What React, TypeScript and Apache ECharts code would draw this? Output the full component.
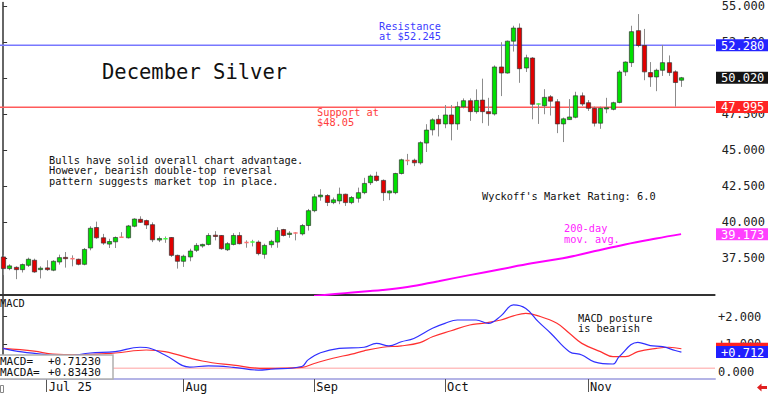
import React, { useEffect, useRef } from 'react';
import * as echarts from 'echarts';

// ---------- data ----------
const monthTicks = [7, 29, 50, 71, 94];
const monthLabels = ['Jul 25', 'Aug', 'Sep', 'Oct', 'Nov'];

// [open, close, low, high]
const candles: number[][] = [
  [37.59, 36.78, 36.33, 37.7], [36.78, 36.97, 36.67, 37.08], [36.87, 36.71, 36.05, 36.94], [36.71, 37.06, 36.51, 37.13],
  [37.01, 37.43, 36.9, 37.54], [37.36, 36.55, 36.49, 37.47], [36.71, 36.81, 36.1, 36.94], [36.83, 36.71, 36.62, 37.36],
  [36.67, 37.29, 36.6, 37.36], [37.24, 37.54, 37.06, 37.75], [37.56, 37.47, 36.85, 37.93], [37.49, 37.47, 36.94, 37.7],
  [37.43, 37.08, 37.01, 37.47], [37.08, 38.11, 37.01, 38.21], [38.21, 39.58, 38.05, 39.72], [39.63, 38.92, 38.85, 40.04],
  [38.92, 38.55, 38.43, 39.19], [38.48, 38.66, 38.21, 38.85], [38.64, 38.94, 38.21, 39.01], [38.99, 38.96, 38.92, 39.31],
  [38.92, 39.74, 38.87, 39.81], [39.72, 40.22, 39.65, 40.27], [40.2, 39.99, 39.95, 40.41], [40.11, 39.81, 39.53, 40.18],
  [39.83, 38.78, 38.62, 39.99], [38.76, 38.87, 38.62, 39.01], [38.83, 38.85, 38.57, 39.01], [38.94, 37.7, 37.59, 38.96],
  [37.7, 37.29, 36.78, 37.75], [37.29, 37.64, 36.9, 37.75], [37.59, 38.0, 37.29, 38.16], [38.05, 38.39, 37.93, 38.55],
  [38.35, 38.46, 38.23, 38.51], [38.46, 39.08, 38.39, 39.24], [39.1, 39.01, 38.74, 39.38], [39.08, 38.16, 38.09, 39.1],
  [38.09, 38.51, 38.0, 38.62], [38.46, 39.08, 38.39, 39.24], [39.08, 38.51, 38.46, 39.31], [38.63, 38.6, 38.23, 38.74],
  [38.58, 38.62, 38.32, 38.78], [38.62, 37.82, 37.7, 38.74], [37.77, 38.39, 37.47, 38.51], [38.44, 38.67, 38.23, 38.78],
  [38.62, 39.42, 38.23, 39.65], [39.49, 39.08, 39.01, 39.54], [39.15, 39.24, 38.92, 39.38], [39.28, 39.26, 38.74, 39.31],
  [39.19, 39.77, 39.08, 39.88], [39.77, 40.8, 39.42, 40.92], [40.8, 41.76, 40.69, 41.95], [41.76, 41.88, 41.49, 42.29],
  [41.85, 41.37, 41.12, 41.95], [41.36, 41.55, 41.25, 41.71], [41.48, 41.94, 41.25, 42.4], [41.94, 41.36, 41.13, 41.98],
  [41.36, 41.71, 41.25, 41.82], [41.66, 42.05, 41.36, 42.4], [42.05, 42.69, 41.94, 43.08], [42.74, 43.2, 42.58, 43.31],
  [43.2, 42.9, 42.81, 43.5], [42.9, 42.05, 41.48, 42.97], [42.03, 42.17, 41.53, 42.21], [42.05, 43.38, 41.94, 43.43],
  [43.38, 44.33, 43.31, 44.41], [44.3, 44.28, 43.96, 44.74], [44.3, 44.12, 43.89, 44.41], [44.12, 45.52, 44.0, 45.61],
  [45.49, 46.39, 44.87, 46.8], [46.41, 47.1, 46.02, 47.21], [47.14, 46.82, 45.95, 47.44], [46.82, 47.44, 46.52, 48.13],
  [47.44, 46.82, 45.68, 48.13], [46.82, 48.01, 46.41, 48.36], [48.01, 48.43, 47.9, 48.59], [48.43, 47.67, 47.03, 48.59],
  [47.67, 48.45, 47.53, 49.22], [48.47, 47.67, 46.87, 49.96], [47.67, 47.53, 46.69, 48.63], [47.51, 50.77, 47.4, 50.88],
  [50.77, 50.35, 48.75, 52.49], [50.35, 52.56, 50.31, 52.6], [52.56, 53.47, 51.84, 53.63], [53.47, 50.65, 49.67, 53.79],
  [50.7, 51.41, 50.42, 51.62], [51.39, 48.18, 47.14, 51.45], [48.16, 48.2, 46.82, 48.25], [48.08, 48.66, 47.49, 49.23],
  [48.7, 48.4, 47.4, 48.82], [48.36, 46.82, 46.18, 48.54], [46.82, 47.17, 45.56, 47.26], [47.12, 47.3, 47.1, 48.54],
  [47.28, 48.77, 47.21, 49.05], [48.77, 48.2, 48.06, 49.0], [48.29, 47.9, 47.72, 48.47], [47.9, 46.87, 46.64, 48.02],
  [46.87, 47.9, 46.48, 48.02], [47.86, 47.94, 47.56, 48.63], [47.83, 48.29, 47.76, 48.36], [48.31, 50.42, 48.25, 50.54],
  [50.43, 51.11, 50.15, 51.16], [51.07, 53.22, 50.77, 53.63], [53.29, 52.26, 52.14, 54.44], [52.26, 50.43, 49.85, 53.41],
  [50.38, 50.08, 49.39, 51.11], [50.08, 50.54, 49.09, 50.65], [50.54, 51.07, 50.15, 52.3], [51.07, 50.38, 50.15, 51.57],
  [50.43, 49.69, 48.02, 50.54], [49.85, 50.02, 49.39, 50.08],
];

// 200-day moving average [index, value]
const ma200: number[][] = [
  [50, 34.88], [55, 35.08], [61, 35.29], [65, 35.5], [70, 35.91], [75, 36.33], [80, 36.74],
  [85, 37.15], [90, 37.5], [95, 37.98], [100, 38.46], [105, 38.87], [109, 39.173],
];

// MACD line [index, value]
const macdLine: number[][] = [
  [0, 0.85], [3, 0.72], [8, 0.6], [10, 0.57], [14, 0.68], [18, 0.73], [22, 0.89], [23, 0.88], [26, 0.61],
  [30, 0.17], [33, 0.21], [37, 0.16], [41, 0.06], [43, 0.09], [48, 0.19], [49, 0.43], [51, 0.69], [54, 0.85],
  [58, 0.89], [60, 1.03], [62, 0.94], [64, 1.09], [66, 1.21], [69, 1.58], [71, 1.76], [73, 1.88], [76, 1.88],
  [78, 1.76], [80, 2.03], [82, 2.43], [84, 2.3], [86, 1.82], [88, 1.4], [91, 0.73], [93, 0.61], [95, 0.36],
  [98, 0.28], [99, 0.55], [102, 1.07], [104, 0.95], [106, 0.91], [108, 0.77], [109, 0.7123],
];

// MACD average (signal) [index, value]
const macdAvg: number[][] = [
  [0, 0.85], [5, 0.75], [8, 0.64], [12, 0.62], [18, 0.68], [23, 0.79], [26, 0.73], [32, 0.39], [37, 0.24],
  [42, 0.12], [48, 0.16], [50, 0.3], [53, 0.49], [56, 0.64], [58, 0.76], [61, 0.89], [64, 0.94], [67, 1.06],
  [69, 1.27], [72, 1.49], [75, 1.7], [77, 1.76], [80, 1.88], [82, 2.03], [84, 2.12], [86, 2.03], [89, 1.76],
  [91, 1.4], [93, 1.03], [96, 0.73], [98, 0.55], [100, 0.55], [102, 0.73], [105, 0.85], [107, 0.89], [109, 0.8343],
];

const priceTicks = [37.5, 40, 42.5, 45, 47.5, 50, 52.5, 55];
const macdTicks = [0, 1, 2];
const resistanceLevel = 52.28;
const supportLevel = 47.995;
const macdRefLevel = 0.15;

const FONT = 'DejaVu Sans Mono';

export default function App() {
  const ref = useRef<HTMLDivElement>(null);

  useEffect(() => {
    if (!ref.current) return;
    const chart = echarts.init(ref.current, undefined, { renderer: 'svg' });

    const lastClose = candles[candles.length - 1][1];
    const maLast = ma200[ma200.length - 1][1];
    const macdLast = macdLine[macdLine.length - 1][1];
    const avgLast = macdAvg[macdAvg.length - 1][1];

    const xBase = { type: 'value', min: -0.5, max: 114.4, splitLine: { show: false } };

    const option: any = {
      animation: false,
      backgroundColor: '#ffffff',
      grid: [
        { left: 0, right: 53, top: 0, height: 295 },
        { left: 0, right: 53, top: 296, height: 83 },
      ],
      xAxis: [
        {
          ...xBase,
          gridIndex: 0,
          axisLine: { show: true, onZero: false, lineStyle: { color: '#333', width: 2 } },
          axisTick: { show: false },
          axisLabel: { show: false },
        },
        {
          ...xBase,
          gridIndex: 1,
          axisLine: { show: true, onZero: false, lineStyle: { color: '#b4b4e6', width: 2 } },
          axisTick: { show: true, customValues: monthTicks, length: 13, lineStyle: { color: '#555' } },
          axisLabel: {
            show: true,
            customValues: monthTicks,
            formatter: (v: number) => monthLabels[monthTicks.indexOf(Math.round(v))] || '',
            align: 'left',
            margin: 2,
            padding: [0, 0, 0, 2],
            fontFamily: FONT,
            fontSize: 12,
            color: '#111',
          },
        },
      ],
      yAxis: [
        {
          type: 'value',
          gridIndex: 0,
          position: 'right',
          min: 34.95,
          max: 55.24,
          splitLine: { show: false },
          axisLine: { show: true, lineStyle: { color: '#333', width: 1.5 } },
          axisTick: { show: true, customValues: priceTicks, length: 4, lineStyle: { color: '#333' } },
          axisLabel: {
            customValues: priceTicks,
            formatter: (v: number) => v.toFixed(3),
            margin: 7,
            fontFamily: FONT,
            fontSize: 12,
            color: '#222',
          },
        },
        {
          type: 'value',
          gridIndex: 1,
          position: 'right',
          min: -0.265,
          max: 2.753,
          splitLine: { show: false },
          axisLine: { show: true, lineStyle: { color: '#333', width: 1.5 } },
          axisTick: { show: true, customValues: macdTicks, length: 4, lineStyle: { color: '#333' } },
          axisLabel: {
            customValues: macdTicks,
            formatter: (v: number) => (v > 0 ? '+' + v.toFixed(3) : v.toFixed(3)),
            margin: 3,
            fontFamily: FONT,
            fontSize: 12,
            color: '#222',
          },
        },
      ],
      series: [
        {
          type: 'custom',
          xAxisIndex: 0,
          yAxisIndex: 0,
          clip: true,
          z: 5,
          data: candles.map((d, i) => [i, d[0], d[1], d[2], d[3]]),
          encode: { x: 0, y: [1, 2, 3, 4] },
          renderItem: (params: any, api: any) => {
            const i = api.value(0);
            const o = api.value(1);
            const c = api.value(2);
            const l = api.value(3);
            const h = api.value(4);
            const po = api.coord([i, o]);
            const pc = api.coord([i, c]);
            const pl = api.coord([i, l]);
            const ph = api.coord([i, h]);
            const w = api.size([1, 0])[0] * 0.68;
            const x = Math.round(po[0]) + 0.5;
            const up = c >= o;
            const children: any[] = [
              { type: 'line', shape: { x1: x, y1: ph[1], x2: x, y2: pl[1] }, style: { stroke: '#8c8c8c', lineWidth: 1 } },
            ];
            if (Math.abs(o - c) < 0.05) {
              children.push({
                type: 'line',
                shape: { x1: x - w / 2, y1: pc[1], x2: x + w / 2, y2: pc[1] },
                style: { stroke: up ? '#3cff3c' : '#ff7070', lineWidth: 1.5 },
              });
            } else {
              children.push({
                type: 'rect',
                shape: { x: x - w / 2, y: Math.min(po[1], pc[1]), width: w, height: Math.abs(po[1] - pc[1]) },
                style: { fill: up ? '#00e000' : '#e00000', stroke: '#333', lineWidth: 0.7 },
              });
            }
            return { type: 'group', children };
          },
        },
        {
          type: 'line',
          xAxisIndex: 0,
          yAxisIndex: 0,
          data: ma200,
          smooth: 0.4,
          symbol: 'none',
          clip: true,
          lineStyle: { color: '#ff00ff', width: 2 },
        },
        {
          type: 'line',
          xAxisIndex: 1,
          yAxisIndex: 1,
          data: macdAvg,
          smooth: 0.4,
          symbol: 'none',
          lineStyle: { color: '#ff3030', width: 1.2 },
        },
        {
          type: 'line',
          xAxisIndex: 1,
          yAxisIndex: 1,
          data: macdLine,
          smooth: 0.4,
          symbol: 'none',
          lineStyle: { color: '#3030ff', width: 1.2 },
        },
      ],
    };

    chart.setOption(option);

    const graphics: any[] = [];

    // horizontal reference lines (support / resistance / MACD reference), drawn as 1px bands
    const hLines = [
      { axis: 0, value: resistanceLevel, color: '#7878ff' },
      { axis: 0, value: supportLevel, color: '#ff5a5a' },
      { axis: 1, value: macdRefLevel, color: '#ffc0c0' },
    ];
    hLines.forEach((l) => {
      const y = Math.round(chart.convertToPixel({ yAxisIndex: l.axis } as any, l.value) as number);
      graphics.push({
        type: 'rect',
        z: 1,
        shape: { x: 0, y: y - 0.5, width: 715, height: 1.5 },
        style: { fill: l.color },
      });
    });

    const boxes = [
      { axis: 0, value: resistanceLevel, fill: '#2424ff', label: true },
      { axis: 0, value: lastClose, fill: '#141414', label: true },
      { axis: 0, value: supportLevel, fill: '#ff2424', label: true },
      { axis: 0, value: maLast, fill: '#ff40ff', label: true },
      { axis: 1, value: avgLast, fill: '#ff2020', label: false },
      { axis: 1, value: macdLast, fill: '#2020ff', label: true },
    ];

    const txt = (text: string, x: number, y: number, fill: string, size = 10.3) => ({
      type: 'text',
      z: 50,
      style: { text, x, y, fill, fontFamily: FONT, fontSize: size, verticalAlign: 'middle', align: 'left' },
    });

    boxes.forEach((b) => {
      const y = chart.convertToPixel({ yAxisIndex: b.axis } as any, b.value) as number;
      graphics.push({ type: 'rect', z: 60, shape: { x: 716, y: y - 6, width: 52, height: 12 }, style: { fill: b.fill } });
      if (b.label) {
        const t = b.axis === 1 ? (b.value > 0 ? '+' : '') + b.value.toFixed(3) : b.value.toFixed(3);
        graphics.push({
          type: 'text',
          z: 61,
          style: { text: t, x: 721, y: y + 0.5, fill: '#ffffff', fontFamily: FONT, fontSize: 12, verticalAlign: 'middle' },
        });
      }
    });

    graphics.push(txt('December Silver', 102, 72, '#111', 20.5));
    graphics.push(txt('Resistance', 379, 26, '#3c3cff'));
    graphics.push(txt('at $52.245', 379, 36, '#3c3cff'));
    graphics.push(txt('Support at', 317, 112, '#ff3c3c'));
    graphics.push(txt('$48.05', 317, 122, '#ff3c3c'));
    graphics.push(txt('Bulls have solid overall chart advantage.', 49, 159.5, '#111'));
    graphics.push(txt('However, bearish double-top reversal', 49, 170, '#111'));
    graphics.push(txt('pattern suggests market top in place.', 49, 180.7, '#111'));
    graphics.push(txt("Wyckoff's Market Rating: 6.0", 482, 196, '#111'));
    graphics.push(txt('200-day', 564, 228, '#ff22ff'));
    graphics.push(txt('mov. avg.', 564, 239, '#ff22ff'));
    graphics.push(txt('MACD', 0, 302.7, '#111'));
    graphics.push(txt('MACD posture', 578, 318.3, '#111'));
    graphics.push(txt('is bearish', 578, 328.3, '#111'));

    graphics.push({
      type: 'rect',
      z: 40,
      shape: { x: -1, y: 355, width: 114, height: 24 },
      style: { fill: '#ffffff', stroke: '#b0b0b0', lineWidth: 1.5 },
    });
    graphics.push(txt('MACD=', 0, 361.3, '#111', 11));
    graphics.push(txt('+' + macdLast.toFixed(5), 48, 361.3, '#111', 11));
    graphics.push(txt('MACDA=', 0, 372.7, '#111', 11));
    graphics.push(txt('+' + avgLast.toFixed(5), 48, 372.7, '#111', 11));

    graphics.push({
      type: 'rect',
      z: 40,
      shape: { x: 0.5, y: 385.5, width: 3, height: 7 },
      style: { fill: '#fff', stroke: '#888', lineWidth: 1 },
    });
    graphics.push({
      type: 'polygon',
      z: 40,
      shape: {
        points: [
          [757, 387.5], [761.5, 383.5], [761.5, 386], [767, 386], [767, 389], [761.5, 389], [761.5, 391.5],
        ],
      },
      style: { fill: '#e02020' },
    });

    chart.setOption({ graphic: graphics });

    return () => {
      chart.dispose();
    };
  }, []);

  return (
    <div
      ref={ref}
      style={{ position: 'fixed', left: 0, top: 0, width: 768, height: 396, background: '#fff' }}
    />
  );
}
